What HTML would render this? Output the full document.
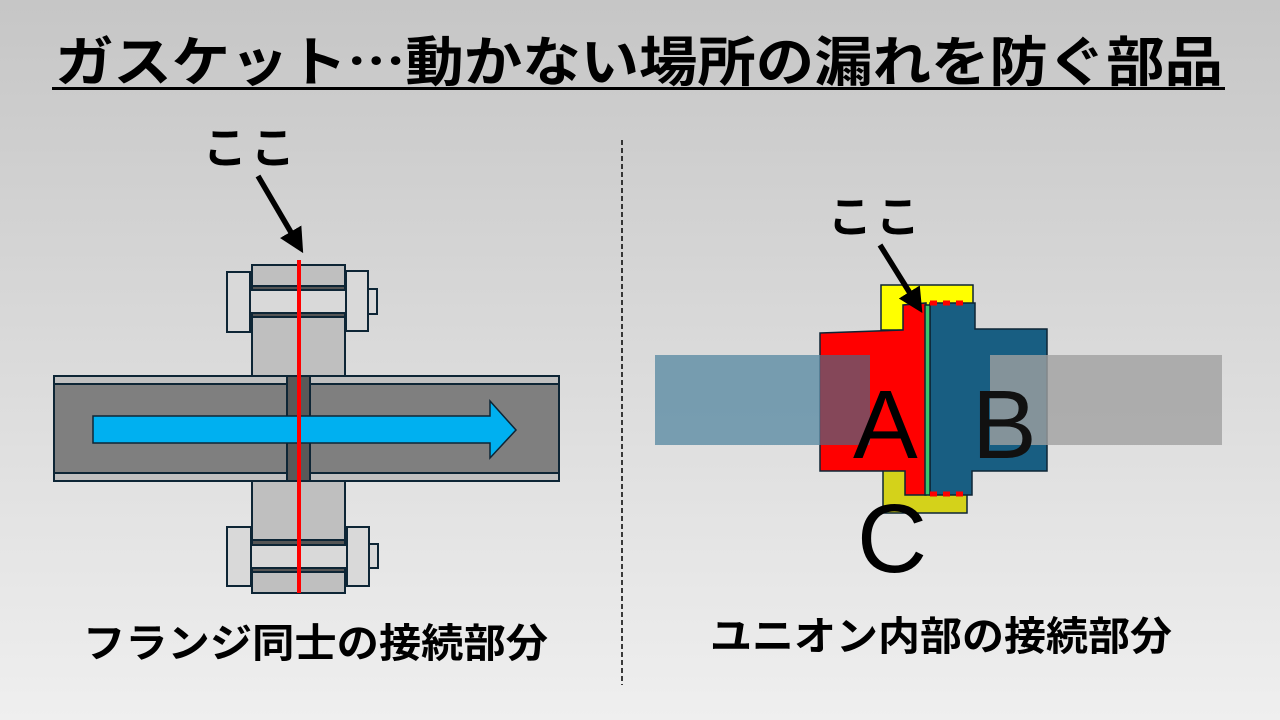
<!DOCTYPE html>
<html><head><meta charset="utf-8"><style>
html,body{margin:0;padding:0;}
body{width:1280px;height:720px;overflow:hidden;background:linear-gradient(#c6c6c6,#efefef);}
svg{display:block}
text{font-family:"Liberation Sans","Noto Sans CJK JP",sans-serif;}
</style></head><body>
<svg width="1280" height="720" viewBox="0 0 1280 720" xmlns="http://www.w3.org/2000/svg">
<defs>
<marker id="ah" markerWidth="4.5" markerHeight="4.5" refX="3" refY="2.25" orient="auto" markerUnits="strokeWidth">
<path d="M0,0 L4.5,2.25 L0,4.5 z" fill="#000"/></marker>
</defs>
<!-- title -->
<text x="55" y="81" font-size="54" font-weight="bold" textLength="1168" lengthAdjust="spacingAndGlyphs" font-family="'Noto Sans CJK JP',sans-serif">ガスケット⋯動かない場所の漏れを防ぐ部品</text>
<rect x="52" y="87" width="1173" height="3" fill="#000"/>
<!-- divider -->
<line x1="622" y1="140" x2="622" y2="685" stroke="#000" stroke-width="1.5" stroke-dasharray="5,3"/>

<!-- left diagram -->
<g stroke="#0d2535" stroke-width="2">
<rect x="252" y="317" width="93" height="60" fill="#bfbfbf"/>
<rect x="252" y="265" width="93" height="21" fill="#bfbfbf"/>
<rect x="252" y="286" width="93" height="4" fill="#555"/>
<rect x="250" y="290" width="97" height="23" fill="#d9d9d9"/>
<rect x="252" y="313" width="93" height="4" fill="#555"/>
<rect x="227" y="272" width="23" height="60" fill="#d9d9d9"/>
<rect x="346" y="271" width="22" height="60" fill="#d9d9d9"/>
<rect x="368" y="289" width="9" height="25" fill="#d9d9d9"/>
<rect x="252" y="481" width="93" height="59" fill="#bfbfbf"/>
<rect x="252" y="540" width="93" height="5" fill="#555"/>
<rect x="251" y="545" width="96" height="23" fill="#d9d9d9"/>
<rect x="252" y="568" width="93" height="4" fill="#555"/>
<rect x="252" y="572" width="93" height="21" fill="#bfbfbf"/>
<rect x="227" y="527" width="24" height="59" fill="#d9d9d9"/>
<rect x="347" y="527" width="22" height="59" fill="#d9d9d9"/>
<rect x="369" y="544" width="9" height="24" fill="#d9d9d9"/>
<rect x="54" y="376" width="233" height="105" fill="#bfbfbf"/>
<rect x="54" y="384" width="233" height="89" fill="#7f7f7f"/>
<rect x="310" y="376" width="249" height="105" fill="#bfbfbf"/>
<rect x="310" y="384" width="249" height="89" fill="#7f7f7f"/>
<rect x="287" y="376" width="23" height="105" fill="#595959"/>
<path d="M93,416 L490,416 L490,401 L516,430 L490,458 L490,443 L93,443 z" fill="#00b0f0" stroke-width="1.5"/>
</g>
<line x1="299" y1="260" x2="299" y2="593" stroke="#ff0000" stroke-width="4"/>
<text x="203" y="163" font-size="44" font-weight="bold" letter-spacing="4">ここ</text>
<line x1="258" y1="176" x2="299" y2="246" stroke="#000" stroke-width="5.5" marker-end="url(#ah)"/>
<text x="83" y="657" font-size="40" font-weight="bold" textLength="465" lengthAdjust="spacingAndGlyphs">フランジ同士の接続部分</text>

<!-- right diagram -->
<g stroke="#0d2535" stroke-width="1.5">
<rect x="881" y="285" width="92" height="45" fill="#ffff00"/>
<rect x="883" y="470" width="84" height="43" fill="#d4d21a"/>
<path d="M820,333 L903,330 L903,305 L926,303 L926,495 L905,495 L905,471 L820,471 z" fill="#ff0000"/>
<path d="M930,303 L975,303 L975,329 L1047,329 L1047,471 L972,471 L972,495 L930,495 z" fill="#185e82"/>
<rect x="925" y="305" width="5" height="190" fill="#3ec46b"/>
</g>
<line x1="930" y1="303" x2="968" y2="303" stroke="#ff0000" stroke-width="5" stroke-dasharray="7,6"/>
<line x1="930" y1="494" x2="968" y2="494" stroke="#ff0000" stroke-width="5" stroke-dasharray="7,6"/>
<rect x="655" y="355" width="215" height="90" fill="#5d8ca4" fill-opacity="0.8"/>
<rect x="820" y="355" width="50" height="90" fill="#8a2b3e" fill-opacity="0.6"/>
<rect x="990" y="355" width="232" height="90" fill="#a0a0a0" fill-opacity="0.8"/>
<text x="853" y="458" font-size="97">A</text>
<text x="972" y="458" font-size="97" fill="#111">B</text>
<text x="857" y="572" font-size="97">C</text>
<text x="828" y="232" font-size="44" font-weight="bold" letter-spacing="4">ここ</text>
<line x1="880" y1="245" x2="918" y2="306" stroke="#000" stroke-width="5.5" marker-end="url(#ah)"/>
<text x="710" y="650" font-size="40" font-weight="bold" textLength="462" lengthAdjust="spacingAndGlyphs">ユニオン内部の接続部分</text>
</svg>
</body></html>
